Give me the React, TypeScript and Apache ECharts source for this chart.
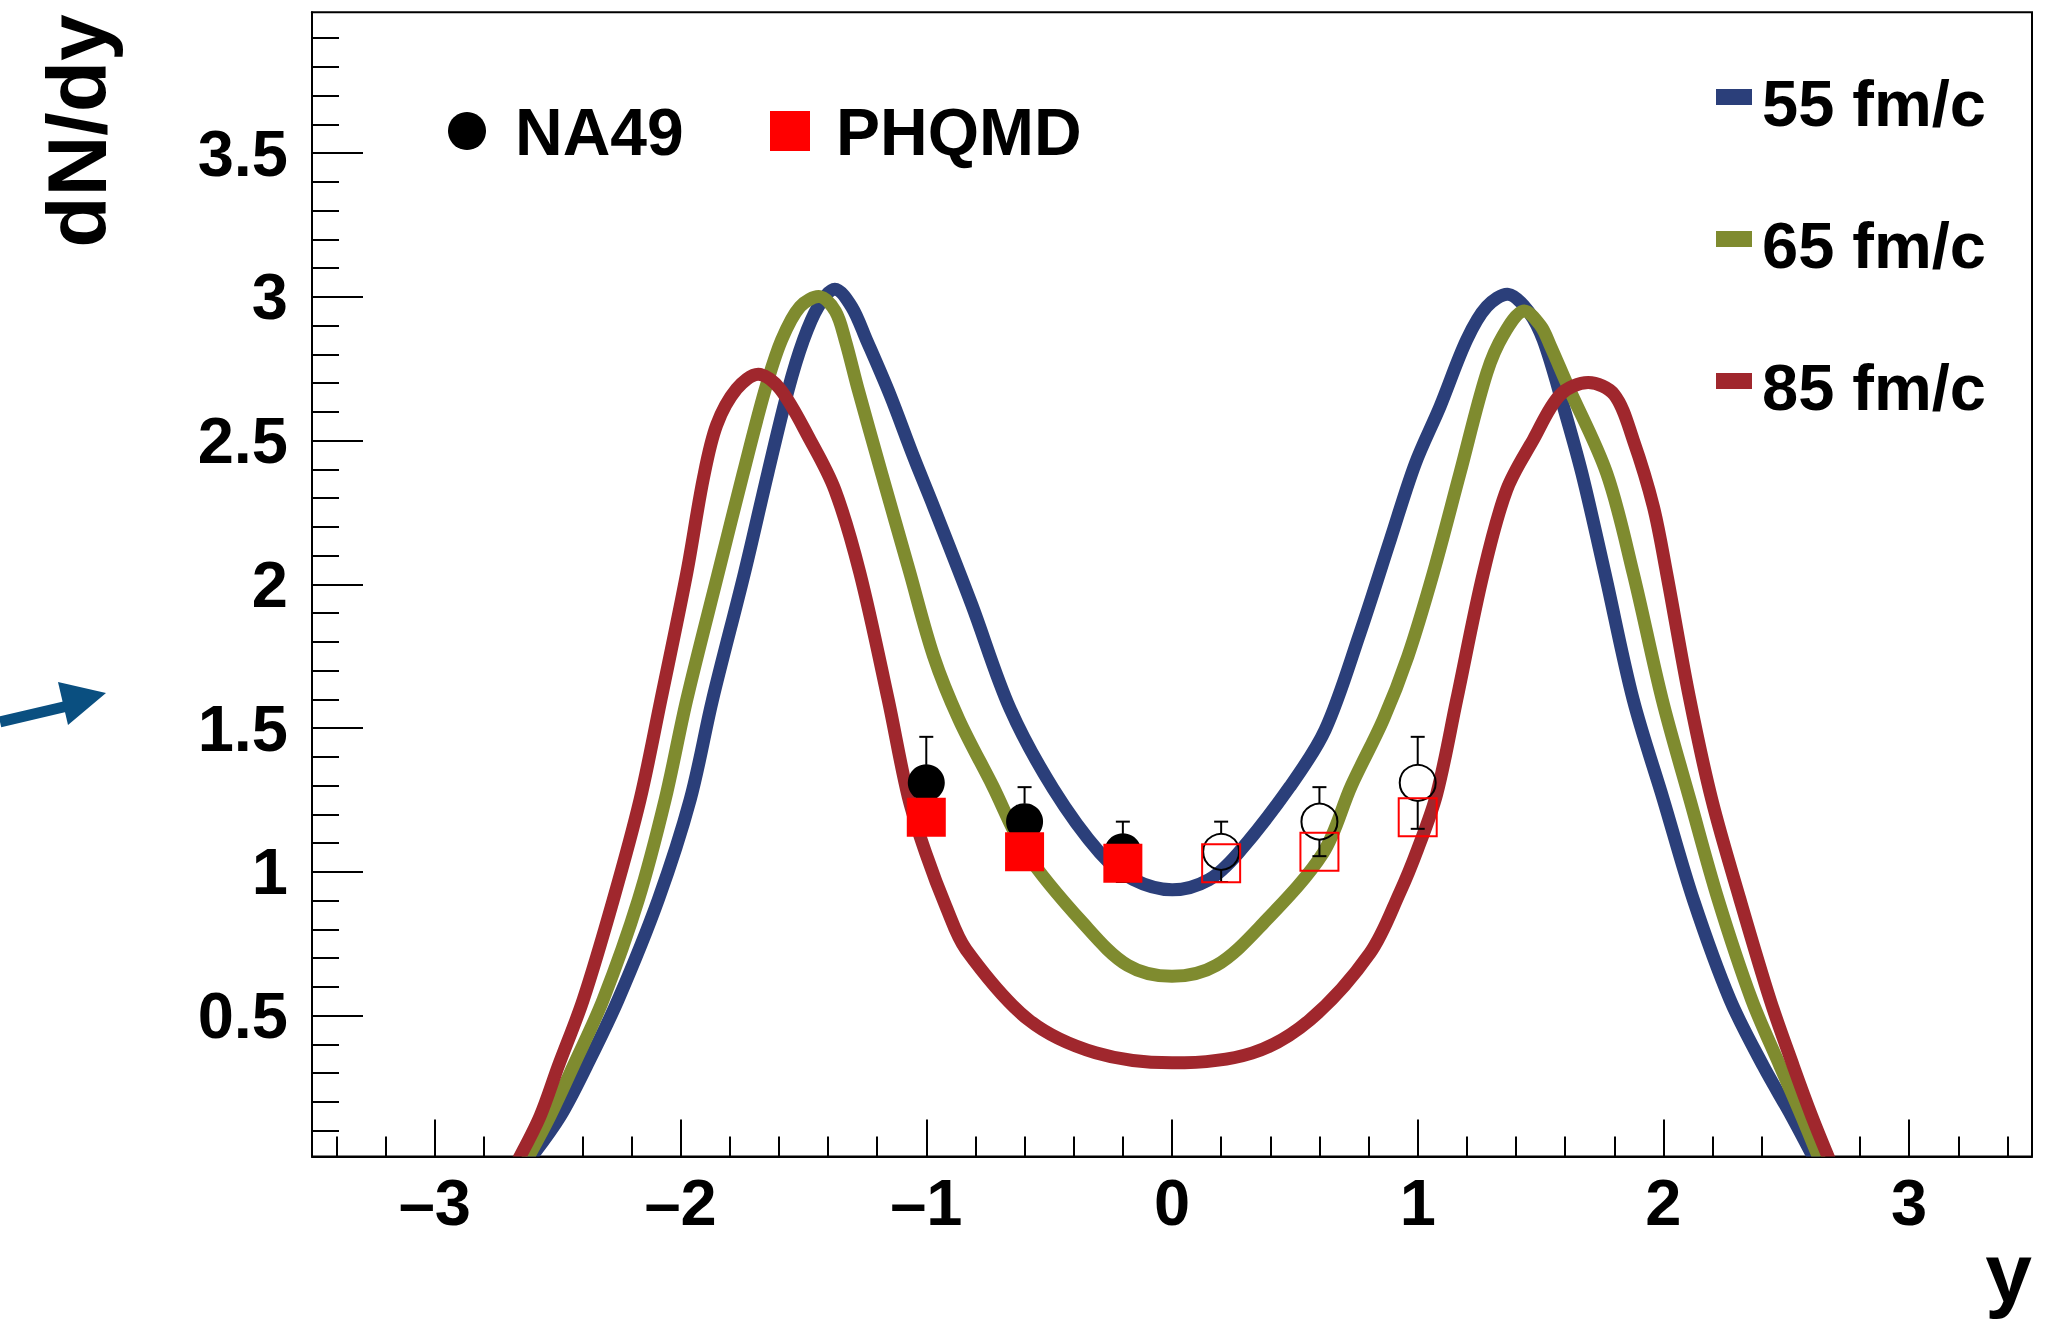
import React, { useEffect, useRef } from "react";
import * as echarts from "echarts";

// ---- data ----
const curve55: number[][] = [
  [-2.615, 0.0], [-2.49, 0.15], [-2.383, 0.324], [-2.254, 0.556], [-2.091, 0.903],
  [-1.961, 1.251], [-1.87, 1.599], [-1.74, 2.04], [-1.645, 2.387], [-1.562, 2.677],
  [-1.5, 2.85], [-1.44, 2.966], [-1.372, 3.027], [-1.304, 2.966], [-1.243, 2.85],
  [-1.148, 2.66], [-1.05, 2.44], [-0.97, 2.27], [-0.815, 1.93], [-0.66, 1.57],
  [-0.484, 1.29], [-0.293, 1.066], [-0.16, 0.975], [0.0, 0.938], [0.15, 0.973],
  [0.27, 1.066], [0.48, 1.297], [0.623, 1.494], [0.765, 1.831], [0.89, 2.16],
  [0.99, 2.42], [1.091, 2.619], [1.199, 2.85], [1.281, 2.966], [1.369, 3.009],
  [1.45, 2.95], [1.511, 2.85], [1.593, 2.619], [1.668, 2.387], [1.762, 2.039],
  [1.877, 1.599], [2.0, 1.251], [2.122, 0.903], [2.271, 0.556], [2.407, 0.324],
  [2.522, 0.15], [2.615, 0.0],
];
const curve65: number[][] = [
  [-2.625, 0.0], [-2.532, 0.15], [-2.437, 0.324], [-2.315, 0.556], [-2.172, 0.903],
  [-2.063, 1.251], [-1.975, 1.599], [-1.847, 2.039], [-1.745, 2.387], [-1.656, 2.677],
  [-1.589, 2.85], [-1.514, 2.966], [-1.433, 3.001], [-1.37, 2.95], [-1.33, 2.85],
  [-1.277, 2.677], [-1.182, 2.387], [-1.07, 2.05], [-0.97, 1.75], [-0.867, 1.53],
  [-0.73, 1.3], [-0.594, 1.066], [-0.36, 0.82], [-0.18, 0.675], [0.0, 0.637],
  [0.18, 0.675], [0.37, 0.82], [0.615, 1.066], [0.73, 1.3], [0.86, 1.53],
  [0.96, 1.75], [1.063, 2.039], [1.172, 2.387], [1.281, 2.735], [1.35, 2.87],
  [1.43, 2.951], [1.5, 2.9], [1.54, 2.83], [1.606, 2.7], [1.769, 2.387],
  [1.877, 2.039], [1.995, 1.6], [2.108, 1.251], [2.223, 0.903], [2.359, 0.556],
  [2.475, 0.324], [2.563, 0.15], [2.635, 0.0],
];
const curve85: number[][] = [
  [-2.66, 0.0], [-2.572, 0.15], [-2.498, 0.324], [-2.396, 0.556], [-2.274, 0.903],
  [-2.165, 1.251], [-2.08, 1.599], [-1.975, 2.039], [-1.907, 2.37], [-1.853, 2.555],
  [-1.772, 2.68], [-1.684, 2.731], [-1.595, 2.68], [-1.473, 2.503], [-1.372, 2.329],
  [-1.27, 2.039], [-1.155, 1.599], [-1.073, 1.26], [-1.0, 1.06], [-0.92, 0.88],
  [-0.838, 0.73], [-0.584, 0.486], [-0.311, 0.371], [0.0, 0.336], [0.325, 0.37],
  [0.562, 0.486], [0.806, 0.718], [0.928, 0.93], [1.0, 1.08], [1.077, 1.27],
  [1.159, 1.6], [1.267, 2.039], [1.362, 2.329], [1.47, 2.503], [1.58, 2.66],
  [1.694, 2.702], [1.8, 2.66], [1.877, 2.503], [1.959, 2.271], [2.013, 2.039],
  [2.105, 1.61], [2.197, 1.251], [2.312, 0.903], [2.434, 0.556], [2.529, 0.324],
  [2.604, 0.15], [2.675, 0.0],
];

// NA49 measured (filled) and reflected (open) points: [y, dN/dy, error]
const na49Measured: number[][] = [[-1.0, 1.31, 0.16], [-0.6, 1.175, 0.12], [-0.2, 1.07, 0.105]];
const na49Reflected: number[][] = [[0.2, 1.07, 0.105], [0.6, 1.175, 0.12], [1.0, 1.31, 0.16]];
// PHQMD points
const phqmdFilled: number[][] = [[-1.0, 1.19], [-0.6, 1.07], [-0.2, 1.03]];
const phqmdOpen: number[][] = [[0.2, 1.03], [0.6, 1.07], [1.0, 1.19]];

const seriesNames = ["55 fm/c", "65 fm/c", "85 fm/c"];
const seriesColors = ["#2b3f7a", "#7f8b2f", "#a0272d"];

const xMajor = [-3, -2, -1, 0, 1, 2, 3];
const xTickLabels = ["\u20133", "\u20132", "\u20131", "0", "1", "2", "3"];
const yMajor = [0.5, 1, 1.5, 2, 2.5, 3, 3.5];
const yTickLabels = ["0.5", "1", "1.5", "2", "2.5", "3", "3.5"];

const X_MIN = -3.5;
const X_MAX = 3.5;
const Y_MIN = 0.01;
const Y_MAX = 3.99;

function minorTicks(from: number, to: number, step: number, majorStep: number): number[] {
  const out: number[] = [];
  const n = Math.round((to - from) / step);
  for (let i = 0; i <= n; i++) {
    const v = Math.round((from + i * step) * 1000) / 1000;
    const r = v / majorStep;
    if (Math.abs(r - Math.round(r)) > 1e-6) out.push(v);
  }
  return out;
}
const xMinor = minorTicks(-3.4, 3.4, 0.2, 1);
const yMinor = minorTicks(0.1, 3.9, 0.1, 0.5);

const FONT = '"Liberation Sans", Arial, Helvetica, sans-serif';

export default function App() {
  const ref = useRef<HTMLDivElement>(null);

  useEffect(() => {
    document.body.style.margin = "0";
    document.body.style.background = "#ffffff";
    if (!ref.current) return;
    const chart = echarts.init(ref.current, undefined, { renderer: "svg" });

    const labelStyle = {
      fontFamily: FONT,
      fontWeight: "bold" as const,
      fontSize: 65,
      color: "#000",
    };

    const errorBarSeries = (data: number[][]) => ({
      type: "custom",
      xAxisIndex: 0,
      yAxisIndex: 0,
      z: 4,
      silent: true,
      clip: true,
      data,
      encode: { x: 0, y: 1 },
      renderItem: (params: any, api: any) => {
        const x = api.value(0);
        const y = api.value(1);
        const e = api.value(2);
        const c = api.coord([x, y]);
        const t = api.coord([x, y + e]);
        const b = api.coord([x, y - e]);
        const r = 18;
        const cap = 7;
        const st = { stroke: "#000", lineWidth: 2 };
        return {
          type: "group",
          children: [
            { type: "line", shape: { x1: c[0], y1: c[1] - r, x2: t[0], y2: t[1] }, style: st },
            { type: "line", shape: { x1: t[0] - cap, y1: t[1], x2: t[0] + cap, y2: t[1] }, style: st },
            { type: "line", shape: { x1: c[0], y1: c[1] + r, x2: b[0], y2: b[1] }, style: st },
            { type: "line", shape: { x1: b[0] - cap, y1: b[1], x2: b[0] + cap, y2: b[1] }, style: st },
          ],
        };
      },
    });

    // smooth curves: one polyline per series, drawn through the axes' scales
    const curveSeries = (d: number[][], i: number) => ({
      name: seriesNames[i],
      type: "custom",
      xAxisIndex: 0,
      yAxisIndex: 0,
      data: d,
      encode: { x: 0, y: 1 },
      clip: true,
      silent: true,
      z: 2 + i * 0.1,
      renderItem: (params: any, api: any) => {
        if (params.dataIndex !== 0) return null;
        const pts = d.map((p) => api.coord(p));
        return {
          type: "polyline",
          shape: { points: pts, smooth: 0.33 },
          style: {
            stroke: seriesColors[i],
            lineWidth: 13,
            fill: null,
            lineCap: "butt",
            lineJoin: "round",
          },
        };
      },
    });

    const textStyle = (text: string, size: number, align: string, valign: string) => ({
      text,
      fill: "#000",
      font: `bold ${size}px ${FONT}`,
      align,
      verticalAlign: valign,
      textAlign: align,
      textVerticalAlign: valign,
    });

    const legendRows = [103, 245, 387];

    const graphic: any[] = [
      // arrow at left
      {
        type: "line",
        shape: { x1: 0, y1: 722, x2: 72, y2: 705 },
        style: { stroke: "#0a4f80", lineWidth: 11 },
        z: 10,
      },
      {
        type: "polygon",
        shape: { points: [[106, 693], [58, 682], [68, 725]] },
        style: { fill: "#0a4f80" },
        z: 10,
      },
      // axis titles
      {
        type: "text",
        x: 77,
        y: 131,
        rotation: Math.PI / 2,
        style: textStyle("dN/dy", 84, "center", "middle"),
        z: 10,
      },
      {
        type: "text",
        x: 2032,
        y: 1273,
        style: textStyle("y", 84, "right", "middle"),
        z: 10,
      },
      // data legend
      { type: "circle", shape: { cx: 467, cy: 131, r: 19 }, style: { fill: "#000" }, z: 10 },
      { type: "text", x: 515, y: 132, style: textStyle("NA49", 66, "left", "middle"), z: 10 },
      { type: "rect", shape: { x: 770, y: 111, width: 40, height: 40 }, style: { fill: "#ff0000" }, z: 10 },
      { type: "text", x: 836, y: 132, style: textStyle("PHQMD", 66, "left", "middle"), z: 10 },
    ];
    seriesNames.forEach((name, i) => {
      graphic.push({
        type: "rect",
        shape: { x: 1716, y: legendRows[i] - 14, width: 36, height: 16 },
        style: { fill: seriesColors[i] },
        z: 10,
      });
      graphic.push({
        type: "text",
        x: 1762,
        y: legendRows[i],
        style: textStyle(name, 65, "left", "middle"),
        z: 10,
      });
    });

    const option: any = {
      animation: false,
      backgroundColor: "#ffffff",
      grid: {
        left: 312,
        right: 22,
        top: 12.3,
        bottom: 172.4,
        containLabel: false,
        show: true,
        borderColor: "#000",
        borderWidth: 2,
        backgroundColor: "transparent",
      },
      xAxis: [
        {
          type: "value",
          min: X_MIN,
          max: X_MAX,
          position: "bottom",
          axisLine: { show: true, onZero: false, lineStyle: { color: "#000", width: 2 } },
          axisTick: {
            show: true,
            inside: true,
            length: 37,
            customValues: xMajor,
            lineStyle: { color: "#000", width: 2 },
          },
          axisLabel: {
            ...labelStyle,
            margin: 13,
            lineHeight: 65,
            customValues: xMajor,
            formatter: (v: number) => {
              const i = xMajor.findIndex((m) => Math.abs(m - v) < 1e-6);
              return i >= 0 ? xTickLabels[i] : "";
            },
          },
          splitLine: { show: false },
        },
        {
          type: "value",
          min: X_MIN,
          max: X_MAX,
          position: "bottom",
          axisLine: { show: false, onZero: false },
          axisTick: {
            show: true,
            inside: true,
            length: 20,
            customValues: xMinor,
            lineStyle: { color: "#000", width: 2 },
          },
          axisLabel: { show: false },
          splitLine: { show: false },
        },
      ],
      yAxis: [
        {
          type: "value",
          min: Y_MIN,
          max: Y_MAX,
          position: "left",
          axisLine: { show: true, onZero: false, lineStyle: { color: "#000", width: 2 } },
          axisTick: {
            show: true,
            inside: true,
            length: 51,
            customValues: yMajor,
            lineStyle: { color: "#000", width: 2 },
          },
          axisLabel: {
            ...labelStyle,
            margin: 24,
            customValues: yMajor,
            formatter: (v: number) => {
              const i = yMajor.findIndex((m) => Math.abs(m - v) < 1e-6);
              return i >= 0 ? yTickLabels[i] : "";
            },
          },
          splitLine: { show: false },
        },
        {
          type: "value",
          min: Y_MIN,
          max: Y_MAX,
          position: "left",
          axisLine: { show: false, onZero: false },
          axisTick: {
            show: true,
            inside: true,
            length: 27,
            customValues: yMinor,
            lineStyle: { color: "#000", width: 2 },
          },
          axisLabel: { show: false },
          splitLine: { show: false },
        },
      ],
      series: [
        curveSeries(curve55, 0),
        curveSeries(curve65, 1),
        curveSeries(curve85, 2),
        errorBarSeries(na49Measured),
        errorBarSeries(na49Reflected),
        {
          name: "NA49",
          type: "scatter",
          xAxisIndex: 0,
          yAxisIndex: 0,
          data: na49Measured.map((p) => [p[0], p[1]]),
          symbol: "circle",
          symbolSize: 37,
          itemStyle: { color: "#000", opacity: 1 },
          z: 5,
          silent: true,
        },
        {
          name: "NA49 reflected",
          type: "scatter",
          xAxisIndex: 0,
          yAxisIndex: 0,
          data: na49Reflected.map((p) => [p[0], p[1]]),
          symbol: "circle",
          symbolSize: 36,
          itemStyle: { color: "rgba(0,0,0,0)", borderColor: "#000", borderWidth: 2, opacity: 1 },
          z: 5,
          silent: true,
        },
        {
          name: "PHQMD",
          type: "scatter",
          xAxisIndex: 0,
          yAxisIndex: 0,
          data: phqmdFilled,
          symbol: "rect",
          symbolSize: 39,
          itemStyle: { color: "#ff0000", opacity: 1 },
          z: 6,
          silent: true,
        },
        {
          name: "PHQMD reflected",
          type: "scatter",
          xAxisIndex: 0,
          yAxisIndex: 0,
          data: phqmdOpen,
          symbol: "rect",
          symbolSize: 38,
          itemStyle: { color: "rgba(0,0,0,0)", borderColor: "#ff0000", borderWidth: 2, opacity: 1 },
          z: 6,
          silent: true,
        },
      ],
      graphic,
    };

    chart.setOption(option);
    return () => {
      chart.dispose();
    };
  }, []);

  return <div ref={ref} style={{ width: 2054, height: 1329, background: "#fff" }} />;
}
